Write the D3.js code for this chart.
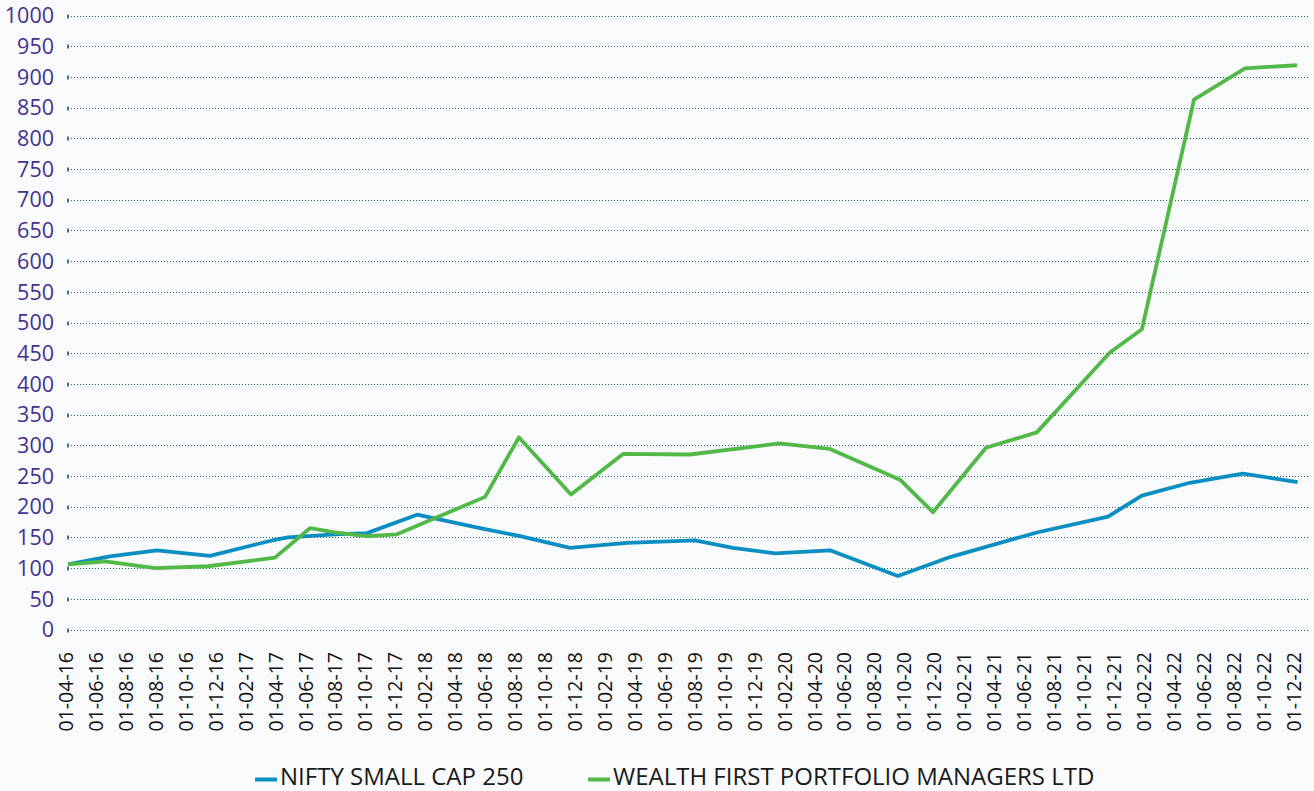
<!DOCTYPE html>
<html>
<head>
<meta charset="utf-8">
<script src="https://cdn.jsdelivr.net/npm/d3@7"></script>
<style>
  body { margin: 0; background: #f8fafb; }
  svg { display: block; }
  text { font-family: "Open Sans", sans-serif; }
</style>
</head>
<body>
<div id="chart"></div>
<script>
// x axis labels (one slot per label, the data sits between them)
var tickLabels = ['01-04-16', '01-06-16', '01-08-16', '01-08-16', '01-10-16', '01-12-16',
  '01-02-17', '01-04-17', '01-06-17', '01-08-17', '01-10-17', '01-12-17',
  '01-02-18', '01-04-18', '01-06-18', '01-08-18', '01-10-18', '01-12-18',
  '01-02-19', '01-04-19', '01-06-19', '01-08-19', '01-10-19', '01-12-19',
  '01-02-20', '01-04-20', '01-06-20', '01-08-20', '01-10-20', '01-12-20',
  '01-02-21', '01-04-21', '01-06-21', '01-08-21', '01-10-21', '01-12-21',
  '01-02-22', '01-04-22', '01-06-22', '01-08-22', '01-10-22', '01-12-22'];

var seriesNames = ['NIFTY SMALL CAP 250', 'WEALTH FIRST PORTFOLIO MANAGERS LTD'];

// positions are measured in label slots (0 = first label)
var niftyPos = [0, 1.4, 2.97, 4.74, 6.81, 7.35, 8.92, 9.99, 11.66, 13.76, 15.1, 16.77,
  18.67, 20.94, 22.21, 23.61, 25.45, 27.72, 28.89, 29.46, 32.36, 34.74, 35.87, 37.47, 39.24, 41.07];
var niftyVal = [106, 119, 129, 120, 145, 150, 155, 157, 187, 165, 152, 133,
  141, 145, 133, 124, 129, 87, 108, 118, 158, 184, 218, 239, 254, 240];

var wealthPos = [0, 1.24, 2.91, 4.68, 6.91, 8.08, 8.92, 9.99, 10.99, 13.93, 15.06, 16.8,
  18.54, 20.77, 23.75, 25.45, 27.79, 28.89, 30.66, 32.36, 34.8, 35.87, 37.61, 39.31, 41.05];
var wealthVal = [106, 111, 100, 103, 117, 165, 158, 152, 155, 216, 313, 220,
  286, 285, 303, 294, 244, 191, 296, 321, 451, 489, 863, 914, 919];

var yTicks = d3.range(0, 1001, 50);
var colors = ['#0b8fc2', '#52b848'];

var width = 1314, height = 791,
    left = 68, right = 1309;

var svg = d3.select('#chart').append('svg')
  .attr('width', width)
  .attr('height', height);

var x = d3.scaleLinear().domain([0, tickLabels.length - 1]).range([left, 1295.5]);
var y = d3.scaleLinear().domain([0, 1000]).range([629.5, 15.5]);

// gridlines
var grid = svg.append('g');
grid.selectAll('line.grid')
  .data(yTicks)
  .enter()
  .append('line')
    .attr('class', 'grid')
    .attr('x1', left).attr('x2', right)
    .attr('y1', function(d) { return Math.round(y(d)) + 0.5; })
    .attr('y2', function(d) { return Math.round(y(d)) + 0.5; })
    .style('stroke', '#22607a')
    .style('stroke-width', 1.2)
    .style('stroke-dasharray', '1,2');
grid.selectAll('line.mark')
  .data(yTicks)
  .enter()
  .append('line')
    .attr('class', 'mark')
    .attr('x1', left).attr('x2', left)
    .attr('y1', function(d) { return Math.round(y(d)) - 1.5; })
    .attr('y2', function(d) { return Math.round(y(d)) + 2.5; })
    .style('stroke', '#1b4f66')
    .style('stroke-width', 1.5);

// y labels
svg.append('g').selectAll('text')
  .data(yTicks)
  .enter()
  .append('text')
    .attr('x', 54)
    .attr('y', function(d) { return y(d); })
    .attr('dy', '0.36em')
    .attr('text-anchor', 'end')
    .style('font-size', '21.5px')
    .style('fill', '#45318f')
    .text(function(d) { return d; });

// x labels, rotated
svg.append('g').selectAll('text')
  .data(tickLabels)
  .enter()
  .append('text')
    .attr('transform', function(d, i) { return 'translate(' + (x(i) - 2) + ',652) rotate(-90)'; })
    .attr('dy', '0.36em')
    .attr('text-anchor', 'end')
    .style('font-size', '19.5px')
    .style('fill', '#111')
    .text(function(d) { return d; });

// lines
var series = [
  { pos: niftyPos, val: niftyVal },
  { pos: wealthPos, val: wealthVal }
];
var line = d3.line()
  .x(function(d) { return x(d[0]); })
  .y(function(d) { return y(d[1]); });

series.forEach(function(s, k) {
  svg.append('path')
    .datum(d3.zip(s.pos, s.val))
    .attr('d', line)
    .style('fill', 'none')
    .style('stroke', colors[k])
    .style('stroke-width', 3.8)
    .style('stroke-linejoin', 'round');
});

// legend
var legendX = [255, 588];
var legend = svg.selectAll('.legend-key')
  .data(seriesNames)
  .enter()
  .append('g')
    .attr('class', 'legend-key')
    .attr('transform', function(d, i) { return 'translate(' + legendX[i] + ',0)'; });
legend.append('rect')
  .attr('x', 0).attr('y', 777.5)
  .attr('width', 22).attr('height', 4)
  .style('fill', function(d, i) { return colors[i]; });
legend.append('text')
  .attr('x', 25)
  .attr('y', 785)
  .style('font-size', '24px')
  .style('fill', '#1a1a1a')
  .text(function(d) { return d; });
</script>
</body>
</html>
